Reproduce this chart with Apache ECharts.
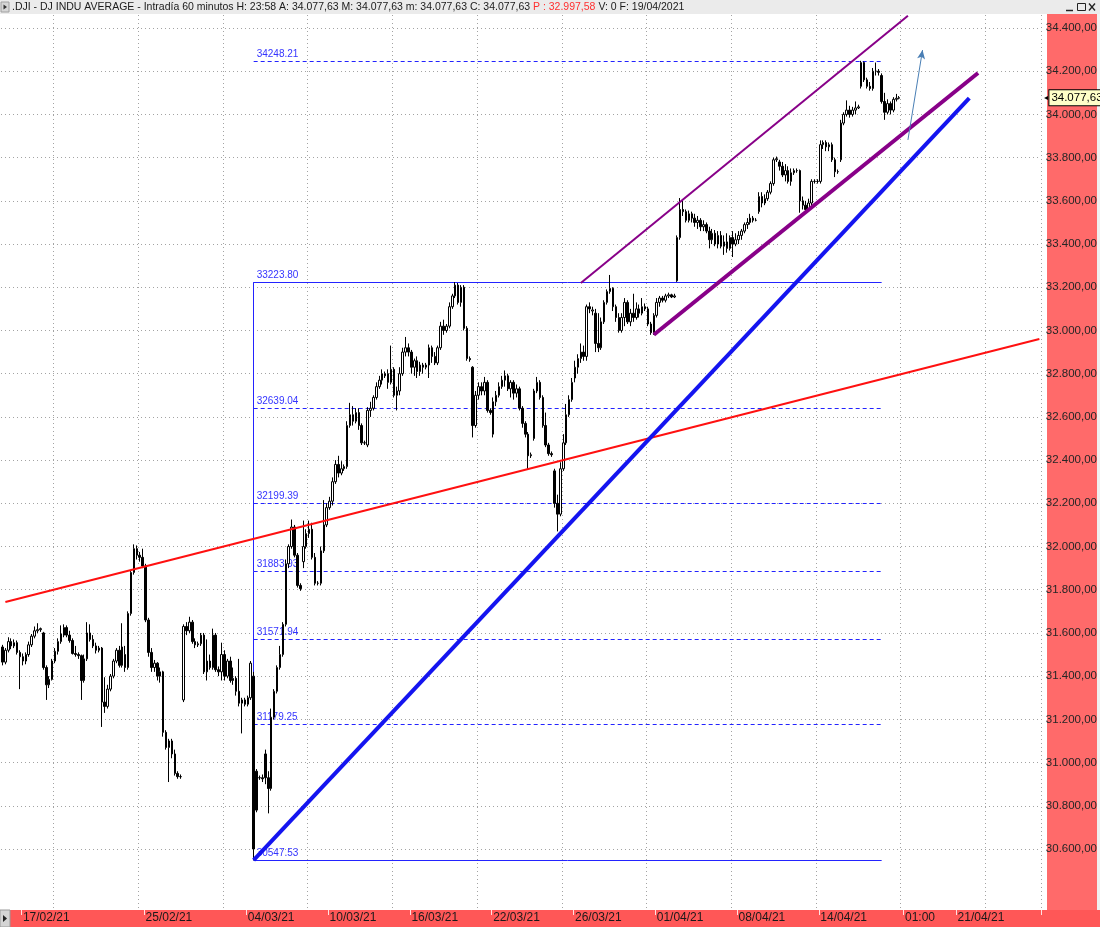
<!DOCTYPE html>
<html>
<head>
<meta charset="utf-8">
<title>.DJI - DJ INDU AVERAGE - Intradía 60 minutos</title>
<script src="https://cdn.jsdelivr.net/npm/echarts@6/dist/echarts.min.js"></script>
<style>
  html, body { margin: 0; padding: 0; background: #fff; }
  #chart { width: 1100px; height: 927px; }
</style>
</head>
<body>
<div id="chart"></div>
<script>
// sesiones y horas (7 velas de 60 minutos por sesión)
const dayNames = [
  '16/02/21', '17/02/21', '18/02/21', '19/02/21', '22/02/21', '23/02/21', '24/02/21', '25/02/21', '26/02/21',
  '01/03/21', '02/03/21', '03/03/21', '04/03/21', '05/03/21', '08/03/21', '09/03/21', '10/03/21', '11/03/21',
  '12/03/21', '15/03/21', '16/03/21', '17/03/21', '18/03/21', '19/03/21', '22/03/21', '23/03/21', '24/03/21',
  '25/03/21', '26/03/21', '29/03/21', '30/03/21', '31/03/21', '01/04/21', '05/04/21', '06/04/21', '07/04/21',
  '08/04/21', '09/04/21', '12/04/21', '13/04/21', '14/04/21', '15/04/21', '16/04/21', '19/04/21'
];
const hourNames = ['10:00', '11:00', '12:00', '13:00', '14:00', '15:00', '16:00'];
// huecos vacíos a la derecha: [día, nº de horas]
const futureDays = [['20/04/21', 19], ['21/04/21', 24], ['22/04/21', 5]];

// velas: [apertura, cierre, mínimo, máximo]
const candles = [
  [31535,31465,31450,31545],[31465,31520,31455,31530],[31520,31560,31510,31580],[31560,31540,31525,31575],[31540,31555,31530,31570],[31555,31510,31500,31565],[31510,31490,31340,31520],
  [31490,31470,31450,31505],[31470,31500,31455,31510],[31500,31545,31490,31560],[31545,31585,31535,31595],[31585,31610,31575,31630],[31610,31615,31600,31645],[31615,31620,31605,31625],
  [31600,31440,31430,31605],[31440,31360,31290,31450],[31360,31385,31345,31400],[31385,31470,31380,31480],[31470,31515,31460,31530],[31515,31560,31500,31575],[31560,31595,31550,31635],
  [31590,31625,31580,31640],[31625,31590,31580,31635],[31590,31565,31555,31610],[31565,31505,31500,31575],[31505,31500,31490,31540],[31500,31495,31480,31510],[31495,31380,31290,31500],
  [31380,31480,31370,31500],[31480,31600,31470,31650],[31600,31570,31560,31640],[31570,31540,31530,31590],[31540,31520,31505,31555],[31520,31530,31510,31540],[31530,31280,31165,31535],
  [31280,31260,31230,31395],[31260,31340,31250,31360],[31340,31400,31330,31410],[31400,31470,31390,31480],[31470,31520,31460,31530],[31520,31450,31440,31540],[31450,31535,31440,31645],
  [31500,31440,31420,31540],[31440,31690,31430,31700],[31690,31880,31680,31890],[31880,31990,31870,32010],[31990,31960,31940,32005],[31960,31950,31930,31975],[31950,31910,31900,31990],
  [31910,31660,31650,31920],[31660,31510,31490,31670],[31510,31440,31420,31530],[31440,31460,31420,31475],[31460,31400,31380,31465],[31400,31420,31370,31440],[31420,31140,31120,31425],
  [31140,31070,31060,31150],[31070,31100,30910,31110],[31100,31040,31020,31110],[31040,30950,30940,31060],[30950,30935,30925,30960],[30935,30935,30925,30945],[31290,31630,31280,31640],
  [31630,31610,31590,31650],[31610,31650,31600,31675],[31650,31560,31550,31660],[31560,31545,31530,31575],[31545,31550,31535,31560],[31550,31590,31540,31600],[31590,31420,31410,31600],
  [31420,31470,31380,31570],[31470,31440,31430,31500],[31440,31590,31430,31620],[31590,31430,31420,31600],[31430,31420,31400,31445],[31420,31500,31380,31555],[31500,31400,31380,31520],
  [31400,31470,31390,31480],[31470,31380,31370,31490],[31380,31390,31360,31440],[31390,31330,31310,31400],[31330,31275,31260,31480],[31275,31290,31135,31300],[31290,31270,31260,31300],
  [31270,31300,31260,31310],[31300,31460,31290,31470],[31400,30600,30548,31420],[30960,30780,30770,30970],[30930,30930,30920,30940],[30930,30925,30910,30945],[31040,30930,30900,31060],
  [30930,30880,30765,30960],[30880,31210,30870,31250],[31210,31330,31200,31340],[31330,31440,31320,31450],[31440,31500,31430,31540],[31500,31640,31490,31650],[31640,31920,31630,31940],
  [31920,32000,31900,32010],[32000,32090,31990,32125],[32090,31960,31950,32100],[31960,31820,31810,31970],[31820,31805,31795,31830],[31930,32000,31900,32120],[32000,32060,31990,32080],
  [32060,32080,32040,32120],[32080,31950,31940,32110],[31950,31830,31820,31970],[31830,31830,31820,31840],[31830,31980,31820,32000],[31980,32100,31970,32215],[32100,32180,32090,32200],
  [32180,32210,32170,32230],[32210,32300,32190,32320],[32300,32380,32290,32400],[32380,32340,32320,32420],[32340,32360,32330,32395],[32360,32370,32350,32380],[32370,32560,32360,32580],
  [32560,32610,32550,32665],[32610,32580,32560,32650],[32580,32620,32570,32640],[32620,32560,32540,32640],[32560,32480,32470,32570],[32480,32480,32470,32490],[32470,32630,32460,32645],
  [32630,32640,32600,32670],[32640,32690,32630,32700],[32690,32740,32680,32760],[32740,32770,32730,32790],[32770,32800,32750,32820],[32800,32790,32780,32810],[32800,32760,32730,32820],
  [32760,32820,32750,32930],[32820,32700,32690,32830],[32700,32720,32630,32740],[32720,32800,32700,32830],[32800,32900,32790,32920],[32900,32920,32880,32970],[32920,32900,32880,32940],
  [32900,32830,32800,32910],[32830,32860,32790,32870],[32860,32810,32780,32880],[32810,32840,32790,32855],[32840,32830,32800,32850],[32830,32840,32820,32850],[32840,32920,32780,32935],
  [32920,32880,32850,32930],[32880,32850,32840,32900],[32850,32920,32840,32930],[32920,33020,32910,33040],[33020,33000,32980,33050],[33000,33020,32990,33030],[33020,33110,33010,33130],
  [33110,33160,33100,33170],[33160,33210,33150,33224],[33210,33130,33120,33220],[33130,33200,33110,33210],[33200,33010,33000,33210],[33010,32870,32860,33020],[32870,32865,32855,32880],
  [32830,32560,32505,32835],[32560,32700,32550,32720],[32700,32740,32680,32760],[32740,32720,32700,32760],[32720,32760,32700,32785],[32760,32630,32620,32770],[32630,32620,32610,32640],
  [32520,32670,32505,32690],[32670,32700,32650,32720],[32700,32740,32690,32760],[32740,32770,32730,32790],[32770,32790,32740,32815],[32790,32730,32720,32800],[32730,32760,32690,32770],
  [32760,32710,32680,32770],[32710,32730,32690,32750],[32730,32640,32630,32740],[32640,32570,32550,32650],[32570,32520,32505,32580],[32520,32420,32355,32530],[32420,32425,32410,32435],
  [32500,32720,32490,32730],[32720,32760,32710,32785],[32760,32690,32680,32770],[32690,32560,32550,32700],[32560,32470,32460,32620],[32470,32430,32420,32480],[32430,32425,32415,32440],
  [32350,32200,32180,32360],[32200,32150,32070,32240],[32150,32360,32140,32390],[32360,32480,32350,32520],[32480,32610,32470,32660],[32610,32680,32600,32700],[32680,32760,32670,32780],
  [32780,32830,32760,32860],[32830,32870,32800,32890],[32870,32900,32850,32940],[32900,32880,32860,32930],[32880,33110,32860,33120],[33110,33100,33080,33130],[33090,33095,33070,33110],
  [33080,32940,32900,33100],[32940,32920,32900,33080],[32920,33040,32910,33060],[33040,33130,33030,33140],[33130,33180,33120,33190],[33180,33195,33170,33257],[33195,33110,33090,33200],
  [33110,33060,33040,33120],[33060,33000,32990,33080],[33000,33060,32990,33080],[33060,33130,33020,33150],[33130,33040,33030,33140],[33040,33080,33020,33100],[33080,33060,33040,33170],
  [33060,33100,33050,33130],[33100,33080,33060,33120],[33080,33110,33070,33150],[33110,33100,33090,33125],[33100,33030,33020,33110],[33030,32990,32980,33040],[32990,33070,32980,33080],
  [33070,33130,33060,33150],[33130,33150,33110,33160],[33150,33140,33130,33160],[33140,33160,33130,33170],[33160,33165,33150,33175],[33165,33155,33150,33170],[33155,33160,33150,33170],
  [33230,33430,33225,33440],[33430,33560,33420,33613],[33560,33550,33530,33600],[33550,33510,33500,33560],[33510,33540,33500,33555],[33540,33520,33500,33550],[33520,33500,33480,33540],
  [33500,33510,33470,33530],[33510,33480,33460,33520],[33480,33490,33460,33510],[33490,33460,33450,33500],[33460,33420,33380,33480],[33420,33450,33400,33470],[33450,33400,33390,33465],
  [33400,33440,33380,33460],[33440,33390,33380,33460],[33390,33410,33350,33440],[33410,33380,33360,33450],[33380,33430,33370,33440],[33430,33400,33340,33460],[33400,33420,33390,33450],
  [33420,33440,33400,33460],[33440,33460,33420,33470],[33460,33490,33450,33500],[33490,33500,33470,33520],[33500,33520,33490,33540],[33520,33510,33500,33530],[33510,33510,33505,33520],
  [33550,33620,33540,33640],[33620,33590,33570,33640],[33590,33610,33580,33630],[33610,33640,33600,33650],[33640,33680,33630,33690],[33680,33790,33670,33800],[33790,33795,33780,33805],
  [33780,33760,33740,33790],[33760,33720,33710,33780],[33720,33740,33690,33770],[33740,33690,33680,33760],[33690,33730,33670,33750],[33730,33740,33720,33750],[33740,33740,33730,33750],
  [33740,33600,33545,33745],[33600,33580,33560,33620],[33580,33560,33545,33600],[33560,33590,33550,33610],[33590,33690,33570,33700],[33690,33690,33680,33700],[33690,33690,33680,33700],
  [33690,33860,33680,33880],[33860,33870,33840,33880],[33870,33850,33830,33880],[33850,33860,33830,33870],[33860,33790,33780,33870],[33790,33735,33710,33800],[33735,33735,33725,33745],
  [33790,33960,33780,33975],[33960,34000,33950,34010],[34000,34020,33990,34065],[34020,34000,33985,34040],[34000,34020,33990,34035],[34020,34030,34000,34060],[34030,34035,34025,34045],
  [34130,34240,34120,34248],[34240,34160,34150,34245],[34160,34130,34120,34170],[34130,34120,34110,34150],[34120,34200,34110,34215],[34200,34200,34180,34240],[34200,34195,34180,34210],
  [34180,34060,34050,34190],[34060,34010,33975,34100],[34010,34050,34000,34070],[34050,34020,34000,34060],[34020,34070,34010,34080],[34070,34075,34060,34095],[34075,34077.63,34070,34085]
];
const lastClose = 34077.63;

// eje de precios
const yTicks = [30600, 30800, 31000, 31200, 31400, 31600, 31800, 32000, 32200, 32400,
  32600, 32800, 33000, 33200, 33400, 33600, 33800, 34000, 34200, 34400];
const yMin = 30317.7;
const yMax = 34460.2;

// etiquetas de fecha visibles en el eje X
const labelCats = ['17/02/21 10:00', '25/02/21 10:00', '04/03/21 10:00', '10/03/21 10:00', '16/03/21 10:00',
  '22/03/21 10:00', '26/03/21 10:00', '01/04/21 10:00', '08/04/21 10:00', '14/04/21 10:00',
  '20/04/21 01:00', '21/04/21 00:00'];

// retroceso de Fibonacci (mínimo 04/03 -> máximo 18/03)
const fibHigh = 33223.80;
const fibLow = 30547.53;
const fibLevels = [34248.21, 33223.80, 32639.04, 32199.39, 31883.93, 31571.94, 31179.25, 30547.53];
const fibFrom = 86;   // vela del mínimo
const fibTo = 301;

// líneas dibujadas: [[índice vela, precio], [índice vela, precio]]
const redLine = [[1, 31743], [355, 32961]];
const blueLine = [[86, 30548], [331, 34075]];
const channelLow = [[223, 32980], [334, 34192]];
const channelHigh = [[198, 33220], [310, 34457]];
const arrowLine = [[310, 33882], [315, 34298]];

// ---------------------------------------------------------------
const categories = [];
dayNames.forEach(d => hourNames.forEach(h => categories.push(d + ' ' + h)));
futureDays.forEach(([d, n]) => {
  for (let h = 0; h < n; h++) categories.push(d + ' ' + String(h).padStart(2, '0') + ':00');
});
const labelSet = new Set(labelCats);

function esNum(v, dec) {
  const parts = v.toFixed(dec).split('.');
  return parts[0].replace(/\B(?=(\d{3})+(?!\d))/g, '.') + ',' + parts[1];
}

const FONT = '"Liberation Sans", Arial, sans-serif';
const FIB_BLUE = '#2323ff';
const gridLine = { color: '#a3a3a3', width: 1, type: [1, 3] };

function seg(pts, style, extra) {
  return [Object.assign({ coord: pts[0], lineStyle: style }, extra && extra[0]),
          Object.assign({ coord: pts[1] }, extra && extra[1])];
}

const fibLines = fibLevels.map(v => {
  const solid = (v === fibHigh || v === fibLow);
  return [{
    coord: [fibFrom, v],
    lineStyle: { color: FIB_BLUE, width: 1, type: solid ? 'solid' : [4, 3], opacity: 1 },
    label: { show: true, formatter: v.toFixed(2) }
  }, { coord: [fibTo, v] }];
});
fibLines.push([{ coord: [fibFrom, fibHigh], lineStyle: { color: FIB_BLUE, width: 1, type: 'solid' }, label: { show: false } },
               { coord: [fibFrom, fibLow] }]);

const chart = echarts.init(document.getElementById('chart'));
chart.setOption({
  animation: false,
  backgroundColor: '#ffffff',
  grid: { left: 1, right: 53, top: 15, bottom: 17, containLabel: false },
  xAxis: {
    type: 'category',
    data: categories,
    boundaryGap: true,
    axisLine: { show: false },
    axisTick: {
      show: true, length: 5,
      interval: (i, v) => labelSet.has(v),
      lineStyle: { color: '#ffe2e2', width: 1 }
    },
    axisLabel: {
      interval: (i, v) => labelSet.has(v),
      formatter: v => v.endsWith(' 01:00') ? '01:00' : v.slice(0, 8),
      align: 'left', margin: 2,
      color: '#1a1a1a', fontSize: 12, fontFamily: FONT
    },
    splitLine: {
      show: true,
      interval: i => i >= 18 && (i - 18) % 29 === 0,
      lineStyle: gridLine
    }
  },
  yAxis: {
    type: 'value',
    position: 'right',
    min: yMin, max: yMax,
    axisLine: { show: false },
    axisTick: { show: false, customValues: yTicks },
    axisLabel: {
      customValues: yTicks,
      formatter: v => esNum(v, 2),
      margin: 5, color: '#262626', fontSize: 11.5, fontFamily: FONT
    },
    splitLine: { show: true, lineStyle: gridLine }
  },
  series: [
    {
      name: 'fibo',
      type: 'line',
      data: [],
      silent: true,
      markLine: {
        z: 1,
        silent: true,
        animation: false,
        symbol: ['none', 'none'],
        lineStyle: { color: FIB_BLUE, width: 1, type: [4, 3] },
        label: {
          position: 'insideStartTop', distance: [3, 2],
          color: '#3434ff', fontSize: 10, fontFamily: FONT
        },
        emphasis: { disabled: true },
        data: fibLines
      }
    },
    {
      name: '.DJI',
      type: 'candlestick',
      data: candles,
      barWidth: 2,
      z: 2,
      itemStyle: {
        color: '#ffffff', color0: '#000000',
        borderColor: '#000000', borderColor0: '#000000', borderColorDoji: '#000000',
        borderWidth: 1
      },
      markLine: {
        silent: true,
        animation: false,
        symbol: ['none', 'none'],
        label: { show: false },
        emphasis: { disabled: true },
        data: [
          seg(redLine, { color: '#ff1010', width: 2, type: 'solid' }),
          seg(blueLine, { color: '#1414f0', width: 4, type: 'solid' }),
          seg(channelLow, { color: '#880088', width: 4, type: 'solid' }),
          seg(channelHigh, { color: '#880088', width: 2, type: 'solid' }),
          seg(arrowLine, { color: '#4a7fb5', width: 1, type: 'solid' },
              [{ symbol: 'none' }, { symbol: 'arrow', symbolSize: [6, 9] }]),
          [{
            coord: [candles.length - 1, lastClose],
            lineStyle: { color: 'rgba(0,0,0,0)', width: 0, opacity: 1 },
            label: {
              show: true, position: 'end', distance: 5, opacity: 1,
              formatter: '{m|◂}{t|' + esNum(lastClose, 2) + '}',
              rich: {
                m: { color: '#000', fontSize: 8, padding: [0, 1, 0, 0] },
                t: {
                  color: '#000', fontSize: 11.5, fontFamily: FONT,
                  backgroundColor: '#ffffc8', borderColor: '#000', borderWidth: 1,
                  padding: [2, 2, 1, 2]
                }
              }
            }
          }, { coord: [categories.length - 1, lastClose] }]
        ]
      }
    }
  ],
  graphic: {
    elements: [
      // cabecera
      { type: 'rect', z: 10, shape: { x: 0, y: 0, width: 1100, height: 14 }, style: { fill: '#ebebeb' } },
      { type: 'rect', z: 11, shape: { x: 1, y: 2, width: 8, height: 10 }, style: { fill: '#d6d6d6', stroke: '#a0a0a0', lineWidth: 1 } },
      { type: 'polygon', z: 12, shape: { points: [[3.5, 4.5], [3.5, 9.5], [7, 7]] }, style: { fill: '#333' } },
      {
        type: 'text', z: 12, x: 12, y: 7,
        style: {
          text: '{a|.DJI - DJ INDU AVERAGE - Intradía 60 minutos H: 23:58 A: 34.077,63 M: 34.077,63 m: 34.077,63 C: 34.077,63 }{p|P : 32.997,58}{a| V: 0 F: 19/04/2021}',
          verticalAlign: 'middle',
          rich: {
            a: { fontSize: 10.5, fontFamily: FONT, fill: '#1a1a1a' },
            p: { fontSize: 10.5, fontFamily: FONT, fill: '#ff3030' }
          }
        }
      },
      // botones de ventana
      { type: 'line', z: 12, shape: { x1: 1066, y1: 10.5, x2: 1073, y2: 10.5 }, style: { stroke: '#222', lineWidth: 1.5 } },
      { type: 'rect', z: 12, shape: { x: 1077.5, y: 3.5, width: 8, height: 7 }, style: { fill: 'none', stroke: '#222', lineWidth: 1 } },
      { type: 'line', z: 12, shape: { x1: 1089, y1: 3.5, x2: 1095, y2: 10.5 }, style: { stroke: '#222', lineWidth: 1.3 } },
      { type: 'line', z: 12, shape: { x1: 1095, y1: 3.5, x2: 1089, y2: 10.5 }, style: { stroke: '#222', lineWidth: 1.3 } },
      // panel de precios
      { type: 'rect', z: -1, shape: { x: 1047, y: 14, width: 50, height: 896 }, style: { fill: '#ff6a6a' } },
      { type: 'rect', z: 3, shape: { x: 1097, y: 14, width: 3, height: 896 }, style: { fill: '#f0f0f0' } },
      // franja de fechas
      { type: 'rect', z: -1, shape: { x: 0, y: 910, width: 1100, height: 17 }, style: { fill: '#ff5757' } },
      { type: 'rect', z: 1, shape: { x: 0, y: 910, width: 10, height: 17 }, style: { fill: '#d4d4d4', stroke: '#9a9a9a', lineWidth: 1 } },
      { type: 'polygon', z: 2, shape: { points: [[3, 915], [3, 922], [7, 918.5]] }, style: { fill: '#222' } }
    ]
  }
});
</script>
</body>
</html>
